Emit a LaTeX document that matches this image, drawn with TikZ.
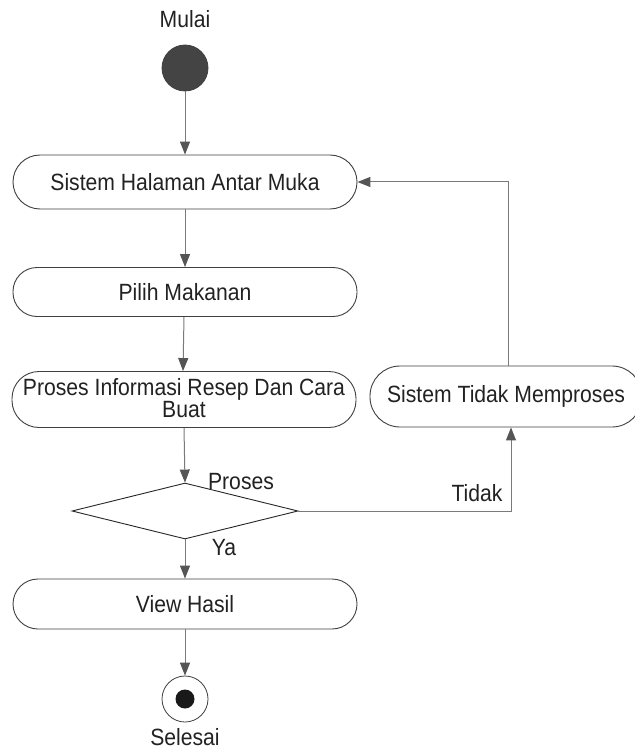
\documentclass[tikz,border=0pt]{standalone}
\usepackage{fontspec}
\setmainfont{Liberation Sans}[FakeStretch=0.9]
\usetikzlibrary{arrows.meta,shapes.geometric}
\definecolor{linec}{HTML}{7A7A7A}
\definecolor{tipc}{HTML}{555555}
\definecolor{borderc}{HTML}{404040}
\definecolor{txtc}{HTML}{222222}
\definecolor{startc}{HTML}{444444}
\begin{document}
\begin{tikzpicture}[x=1pt,y=-1pt,
  every node/.style={text=txtc,font=\fontsize{23.5}{20}\selectfont},
  act/.style={draw=borderc,line width=0.9pt,fill=white,rectangle,inner sep=0pt,align=center},
  arr/.style={draw=linec,line width=1pt,-{Triangle[length=13pt,width=10pt,color=tipc]}},
  lbl/.style={inner sep=0pt}
]
\useasboundingbox (0,0) rectangle (634,751);
\fill[white] (0,0) rectangle (634,751);
% start
\node[lbl] (mulai) at (185,19) {Mulai};
\node[circle,draw=borderc,fill=startc,minimum size=46pt,inner sep=0pt,line width=0.8pt] (start) at (185,68) {};
% activities
\node[act,minimum width=344pt,minimum height=54pt,rounded corners=27pt] (b1) at (185,182) {Sistem Halaman Antar Muka};
\node[act,minimum width=344pt,minimum height=49pt,rounded corners=24pt] (b2) at (185,292) {Pilih Makanan};
\node[act,minimum width=344pt,minimum height=56pt,rounded corners=27pt] (b3) at (184,399.5) {};
\node[lbl,align=center,font=\fontsize{23.5}{20}\selectfont] (b3t) at (184,398) {Proses Informasi Resep Dan Cara\\Buat};
\node[act,minimum width=272pt,minimum height=61pt,rounded corners=30pt] (b4) at (506,396.5) {Sistem Tidak Memproses};
% decision
\node[diamond,draw=black!85,line width=0.9pt,fill=white,minimum width=226pt,minimum height=56pt,inner sep=0pt,aspect=4] (d) at (185,511) {};
\node[act,minimum width=344pt,minimum height=50pt,rounded corners=25pt] (b5) at (185,604) {View Hasil};
% end
\node[circle,draw=borderc,fill=white,minimum size=46pt,inner sep=0pt,line width=0.8pt] (fin) at (185,699) {};
\node[circle,fill=black!90,minimum size=19pt,inner sep=0pt] (findot) at (185,699) {};
\node[lbl] (selesai) at (185,737) {Selesai};
% labels
\node[lbl] (lproses) at (241,482) {Proses};
\node[lbl] (lya) at (224,548) {Ya};
\node[lbl] (ltidak) at (477,493) {Tidak};
% connectors
\draw[arr] (start) -- (b1);
\draw[arr] (b1) -- (b2);
\draw[arr] ([xshift=-1pt]b2.south) -- ([xshift=-1pt]b3.north);
\draw[arr] (b3.south) -- (d.north);
\draw[arr] (d.south) -- (b5.north);
\draw[arr] (b5.south) -- (fin.north);
\draw[arr] (d.east) -| ([xshift=5pt]b4.south);
\draw[arr] ([xshift=2pt]b4.north) |- (b1.east);
\end{tikzpicture}
\end{document}
